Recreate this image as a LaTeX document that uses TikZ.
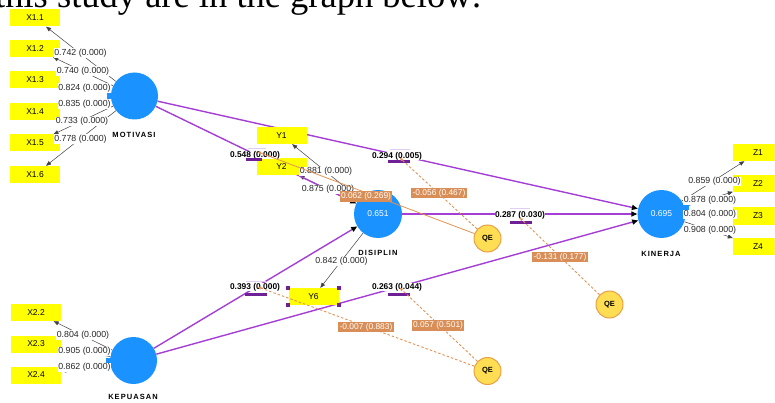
\documentclass[tikz,border=0pt]{standalone}
\usepackage{fontspec}
\setmainfont{Liberation Sans}
\newfontfamily\serifbig{Liberation Serif}
\newfontfamily\spaced[LetterSpace=14]{Liberation Sans}
\usetikzlibrary{arrows.meta}
\pgfdeclarelayer{bg}
\pgfsetlayers{bg,main}
\definecolor{indyellow}{RGB}{255,255,0}
\definecolor{lvblue}{RGB}{26,146,255}
\definecolor{pathpurple}{RGB}{164,62,212}
\definecolor{barpurple}{RGB}{112,32,150}
\definecolor{lavender}{RGB}{225,205,240}
\definecolor{modorange}{RGB}{226,146,84}
\definecolor{modfill}{RGB}{216,142,86}
\definecolor{qefill}{RGB}{255,222,84}
\definecolor{qedraw}{RGB}{232,160,72}
\begin{document}
\begin{tikzpicture}[x=1pt,y=-1pt,
  ind/.style={fill=indyellow, minimum width=50pt, minimum height=17pt, inner sep=0pt, font=\fontsize{8.5}{9}\selectfont},
  lv/.style={circle, fill=lvblue, minimum size=47pt, inner sep=0pt, text=white, font=\fontsize{8.5}{9}\selectfont},
  lvname/.style={font=\spaced\bfseries\fontsize{7.5}{8}\selectfont, inner sep=0pt},
  lvtab/.style={fill=lvblue, minimum width=5pt, minimum height=6pt, inner sep=0pt},
  qe/.style={circle, fill=qefill, draw=qedraw, line width=1pt, minimum size=27pt, inner sep=0pt, font=\bfseries\fontsize{7.5}{8}\selectfont},
  loadline/.style={draw=black!75, line width=0.5pt, -{Triangle[length=5pt,width=4pt]}},
  loadlab/.style={fill=white, inner sep=0.5pt, text=black!85, font=\fontsize{8.8}{9}\selectfont},
  pathline/.style={draw=pathpurple, line width=1.4pt, -{Triangle[length=6pt,width=5pt,color=black]}},
  coef/.style={fill=white, inner sep=0.5pt, font=\bfseries\fontsize{8.4}{9}\selectfont},
  coefbar/.style={fill=barpurple},
  modline/.style={draw=modorange, line width=0.9pt, dash pattern=on 2.5pt off 2pt, -{Triangle[length=3pt,width=3pt]}},
  modsolid/.style={draw=modorange, line width=0.8pt, -{Triangle[length=3pt,width=3pt]}},
  modlab/.style={fill=modfill, text=white, inner sep=1.3pt, font=\fontsize{8.4}{9}\selectfont},
  corner/.style={fill=barpurple, minimum size=4pt, inner sep=0pt}
]
\useasboundingbox (0,0) rectangle (775,403);
\clip (0,0) rectangle (775,403);

% heading text (cut off)
\node[anchor=base west, inner sep=0pt, font=\serifbig\fontsize{36.5}{40}\selectfont] (title) at (-5,7.5) {this study are in the graph below:};

% indicators
\node[ind] (x11) at (35,18) {X1.1};
\node[ind] (x12) at (35,48.5) {X1.2};
\node[ind] (x13) at (35,80) {X1.3};
\node[ind] (x14) at (35,111.5) {X1.4};
\node[ind] (x15) at (35,143) {X1.5};
\node[ind] (x16) at (35,174.5) {X1.6};
\node[ind] (x22) at (36,312.5) {X2.2};
\node[ind] (x23) at (36,344) {X2.3};
\node[ind] (x24) at (36,375) {X2.4};
\node[ind] (y1) at (281.5,135.5) {Y1};
\node[ind] (y2) at (281.5,167) {Y2};
\node[ind] (y6) at (313.5,296.5) {Y6};
\node[corner] (y6a) at (y6.north west) {};
\node[corner] (y6b) at (y6.north east) {};
\node[corner] (y6c) at (y6.south west) {};
\node[corner] (y6d) at (y6.south east) {};
\node[ind] (z1) at (758,152.5) {Z1};
\node[ind] (z2) at (758,184) {Z2};
\node[ind] (z3) at (758,216) {Z3};
\node[ind] (z4) at (758,246.5) {Z4};

% latent variables
\node[lvtab, anchor=east] (mottab) at (112,96) {};
\node[lv] (mot) at (134.5,96) {};
\node[lvname] (motn) at (134,135) {MOTIVASI};
\node[lvtab, anchor=east] (keptab) at (111,360.5) {};
\node[lv] (kep) at (133.5,360.5) {};
\node[lvname] (kepn) at (133,397) {KEPUASAN};
\node[lv, minimum size=48pt] (dis) at (378,214) {0.651};
\node[lvname] (disn) at (378,253) {DISIPLIN};
\node[lvtab, anchor=west] (kintab) at (684,207) {};
\node[lv, minimum size=48pt] (kin) at (661.5,214) {0.695};
\node[lvname] (kinn) at (661,254) {KINERJA};

% moderators
\node[qe] (qe1) at (487.5,238.5) {QE};
\node[qe] (qe2) at (609.5,304.5) {QE};
\node[qe] (qe3) at (487.5,371) {QE};

\begin{pgfonlayer}{bg}
% outer loadings
\draw[loadline] (mot) -- (x11);
\draw[loadline] (mot) -- (x12);
\draw[loadline] (mot) -- (x13);
\draw[loadline] (mot) -- (x14);
\draw[loadline] (mot) -- (x15);
\draw[loadline] (mot) -- (x16);
\draw[loadline] (kep) -- (x22);
\draw[loadline] (kep) -- (x23);
\draw[loadline] (kep) -- (x24);
\draw[loadline] (dis) -- (y1);
\draw[loadline] (dis) -- (y2);
\draw[loadline] (dis) -- (y6);
\draw[loadline] (kin) -- (z1);
\draw[loadline] (kin) -- (z2);
\draw[loadline] (kin) -- (z3);
\draw[loadline] (kin) -- (z4);
% structural paths
\draw[pathline] (mot) -- (kin);
\draw[pathline] (mot) -- (dis);
\draw[pathline] (dis) -- (kin);
\draw[pathline] (kep) -- (dis);
\draw[pathline] (kep) -- (kin);
\end{pgfonlayer}

% loading labels
\node[loadlab] (l1) at (80.5,53) {0.742 (0.000)};
\node[loadlab] (l2) at (83,71) {0.740 (0.000)};
\node[loadlab] (l3) at (84.5,88) {0.824 (0.000)};
\node[loadlab] (l4) at (84.5,104) {0.835 (0.000)};
\node[loadlab] (l5) at (82,121.5) {0.733 (0.000)};
\node[loadlab] (l6) at (80.5,139) {0.778 (0.000)};
\node[loadlab] (l7) at (83,335) {0.804 (0.000)};
\node[loadlab] (l8) at (84.5,351.7) {0.905 (0.000)};
\node[loadlab] (l9) at (84.5,367.7) {0.862 (0.000)};
\node[loadlab] (l10) at (326,171.7) {0.881 (0.000)};
\node[loadlab] (l11) at (328,189.3) {0.875 (0.000)};
\node[loadlab] (l12) at (341.5,261.7) {0.842 (0.000)};
\node[loadlab] (l13) at (714.5,181.7) {0.859 (0.000)};
\node[loadlab] (l14) at (710,200) {0.878 (0.000)};
\node[loadlab] (l15) at (710,214.5) {0.804 (0.000)};
\node[loadlab] (l16) at (710,230) {0.908 (0.000)};

% path coefficients
\fill[lavender] (248,148.5) rectangle (266,149.5);
\node[coef] (c548) at (255,155) {0.548 (0.000)};
\fill[coefbar] (246,157.8) rectangle (262,160.8);
\fill[lavender] (390,149.5) rectangle (410,150.5);
\node[coef] (c294) at (397,156) {0.294 (0.005)};
\fill[coefbar] (388,160.5) rectangle (410,163.5);
\fill[lavender] (510,208.5) rectangle (530,209.5);
\node[coef] (c287) at (520,215) {0.287 (0.030)};
\fill[coefbar] (510,221) rectangle (532,224);
\fill[lavender] (246,280.5) rectangle (266,281.5);
\node[coef] (c393) at (255,287) {0.393 (0.000)};
\fill[coefbar] (245,292.5) rectangle (267,295.5);
\node[coef] (c263) at (397,287) {0.263 (0.044)};
\fill[coefbar] (388,292.5) rectangle (410,295.5);

% moderating effects
\coordinate (m548) at (258,152);
\coordinate (m294) at (400,158);
\coordinate (m287) at (520,218);
\coordinate (m393) at (258,287);
\coordinate (m263) at (400,288);
\draw[modsolid] (qe1) -- (m548);
\draw[modline] (qe1) -- (m294);
\draw[modline] (qe2) -- (m287);
\draw[modline] (qe3) -- (m393);
\draw[modline] (qe3) -- (m263);
\node[modlab] (e1) at (366,196.5) {0.062 (0.269)};
\node[modlab] (e2) at (439,193) {-0.056 (0.467)};
\node[modlab] (e3) at (560,257) {-0.131 (0.177)};
\node[modlab] (e4) at (366,327) {-0.007 (0.883)};
\node[modlab] (e5) at (438,325.5) {0.057 (0.501)};
\end{tikzpicture}
\end{document}
